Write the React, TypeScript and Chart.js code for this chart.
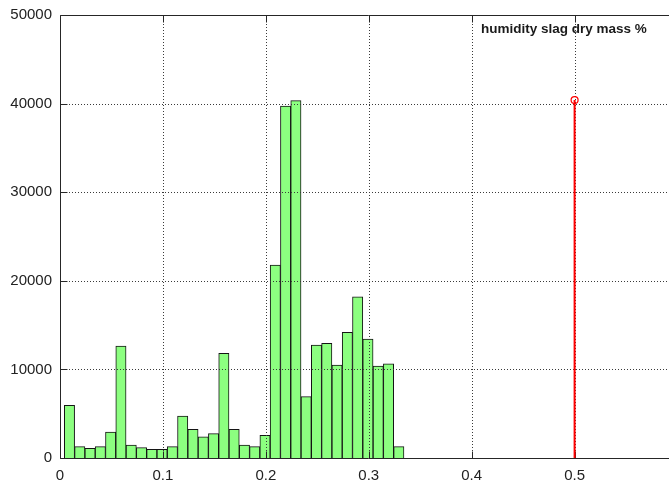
import { useEffect, useRef } from 'react';
import { Chart, registerables } from 'chart.js';

Chart.register(...registerables);

const binCenters = [
  0.0092, 0.0192, 0.0292, 0.0392, 0.0492, 0.0592, 0.0692, 0.0792, 0.0892, 0.0992,
  0.1092, 0.1192, 0.1292, 0.1392, 0.1492, 0.1592, 0.1692, 0.1792, 0.1892, 0.1992,
  0.2092, 0.2192, 0.2292, 0.2392, 0.2492, 0.2592, 0.2692, 0.2792, 0.2892, 0.2992,
  0.3092, 0.3192, 0.3292,
];
const binCounts = [
  5950, 1280, 1090, 1280, 2930, 12640, 1470, 1170, 980, 980,
  1280, 4740, 3230, 2400, 2760, 11810, 3230, 1470, 1280, 2560,
  21780, 39730, 40330, 6920, 12750, 12940, 10500, 14180, 18200, 13430,
  10380, 10640, 1280,
];
const stemX = [0.5, 0.5];
const stemY = [0, 40400];
const xTicks = [0, 0.1, 0.2, 0.3, 0.4, 0.5];
const yTicks = [0, 10000, 20000, 30000, 40000, 50000];
const xRange = [0, 0.5925];
const yRange = [0, 50000];
const legendText = 'humidity slag dry mass %';

export default function App() {
  const ref = useRef<HTMLCanvasElement>(null);

  useEffect(() => {
    const canvas = ref.current;
    if (!canvas) return;

    const framePlugin = {
      id: 'octaveFrame',
      afterDatasetDraw(chart: any, args: any) {
        if (args.meta.type !== 'bar') return;
        const { ctx, chartArea: a, scales } = chart;
        const x = scales.x;
        const y = scales.y;
        ctx.save();
        ctx.lineWidth = 1;
        // dotted grid
        ctx.strokeStyle = '#3a3a3a';
        ctx.setLineDash([1, 2]);
        for (const t of x.ticks) {
          const px = Math.round(x.getPixelForValue(t.value)) + 0.5;
          if (px <= a.left + 1 || px >= a.right - 1) continue;
          ctx.beginPath();
          ctx.moveTo(px, a.top);
          ctx.lineTo(px, a.bottom);
          ctx.stroke();
        }
        for (const t of y.ticks) {
          const py = Math.round(y.getPixelForValue(t.value)) + 0.5;
          if (py <= a.top + 1 || py >= a.bottom - 1) continue;
          ctx.beginPath();
          ctx.moveTo(a.left, py);
          ctx.lineTo(a.right + 10, py);
          ctx.stroke();
        }
        ctx.setLineDash([]);
        ctx.strokeStyle = '#262626';
        const L = Math.round(a.left) + 0.5;
        const T = Math.round(a.top) + 0.5;
        const B = Math.round(a.bottom) + 0.5;
        ctx.beginPath();
        ctx.moveTo(L, T);
        ctx.lineTo(L, B);
        ctx.moveTo(L, T);
        ctx.lineTo(a.right + 10, T);
        ctx.moveTo(L, B);
        ctx.lineTo(a.right + 10, B);
        const tl = 7;
        for (const t of x.ticks) {
          const px = Math.round(x.getPixelForValue(t.value)) + 0.5;
          ctx.moveTo(px, T);
          ctx.lineTo(px, T + tl);
          ctx.moveTo(px, B);
          ctx.lineTo(px, B - tl);
        }
        for (const t of y.ticks) {
          const py = Math.round(y.getPixelForValue(t.value)) + 0.5;
          ctx.moveTo(L, py);
          ctx.lineTo(L + tl, py);
        }
        ctx.stroke();
        ctx.restore();
      },
      afterDraw(chart: any) {
        const { ctx } = chart;
        ctx.save();
        ctx.font = "bold 13.5px 'Liberation Sans', Arial, sans-serif";
        ctx.fillStyle = '#1a1a1a';
        ctx.textAlign = 'left';
        ctx.textBaseline = 'alphabetic';
        ctx.fillText(legendText, 481, 32.5);
        ctx.restore();
      },
    };

    const tickFont = { family: "'Liberation Sans', Arial, sans-serif", size: 15 };

    const chart = new Chart(canvas, {
      type: 'bar',
      data: {
        datasets: [
          {
            type: 'bar',
            data: binCenters.map((c, i) => ({ x: c, y: binCounts[i] })),
            backgroundColor: '#8cff80',
            borderColor: '#141414',
            borderWidth: 1,
            barPercentage: 1,
            categoryPercentage: 1,
            order: 2,
          } as any,
          {
            type: 'line',
            data: stemX.map((v, i) => ({ x: v, y: stemY[i] })),
            borderColor: '#ff0000',
            borderWidth: 2,
            pointRadius: [0, 3.5],
            pointBorderColor: '#ff0000',
            pointBackgroundColor: 'rgba(255,255,255,0)',
            pointBorderWidth: 1.2,
            fill: false,
            order: 1,
          } as any,
        ],
      },
      options: {
        animation: false,
        responsive: false,
        maintainAspectRatio: false,
        layout: { padding: { top: 15, right: 0, left: 0, bottom: 0 } },
        plugins: {
          legend: { display: false },
          tooltip: { enabled: false },
          title: { display: false },
        },
        scales: {
          x: {
            type: 'linear',
            min: xRange[0],
            max: xRange[1],
            offset: false,
            grid: { display: false, drawTicks: false },
            border: { display: false },
            afterBuildTicks: (s: any) => {
              s.ticks = xTicks.map((v) => ({ value: v }));
            },
            afterFit: (s: any) => {
              s.height = 24;
              s.paddingLeft = 0;
              s.paddingRight = 0;
            },
            ticks: {
              padding: 9,
              color: '#222',
              font: tickFont,
              maxRotation: 0,
              autoSkip: false,
              callback: (v: any) => String(v),
            },
          },
          y: {
            type: 'linear',
            min: yRange[0],
            max: yRange[1],
            grid: { display: false, drawTicks: false },
            border: { display: false },
            afterBuildTicks: (s: any) => {
              s.ticks = yTicks.map((v) => ({ value: v }));
            },
            afterFit: (s: any) => {
              s.width = 60;
              s.paddingTop = 0;
              s.paddingBottom = 0;
            },
            ticks: {
              padding: 8,
              color: '#222',
              font: tickFont,
              callback: (v: any) => String(v),
            },
          },
        },
      },
      plugins: [framePlugin],
    } as any);

    return () => chart.destroy();
  }, []);

  return (
    <div style={{ position: 'absolute', left: 0, top: 0, width: 669, height: 482, overflow: 'hidden', background: '#fff' }}>
      <canvas ref={ref} width={675} height={482} />
    </div>
  );
}
